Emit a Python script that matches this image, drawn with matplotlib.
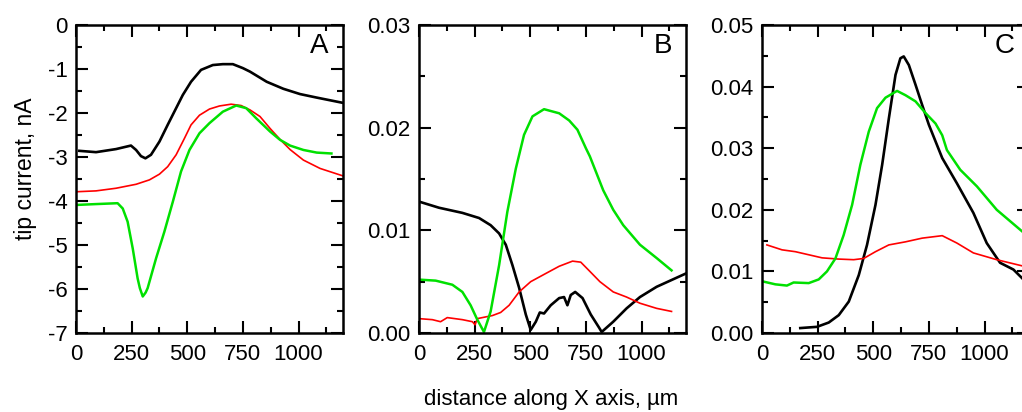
"""Three-panel tip current profiles along X (panels A, B, C)."""
import matplotlib
matplotlib.use("Agg")
import matplotlib.pyplot as plt
from matplotlib.ticker import MultipleLocator, FormatStrFormatter

plt.rcParams["font.family"] = ["Liberation Sans", "DejaVu Sans"]

BLACK, RED, GREEN = "#000000", "#ff0000", "#00e000"

# ---- panel A: tip current, nA ----
a_black_x = [15, 90, 180, 247, 270, 292, 312, 337, 375, 412, 450, 480, 517, 562,
             615, 660, 705, 750, 782, 857, 932, 1007, 1082, 1200]
a_black_y = [-2.86, -2.89, -2.82, -2.74, -2.84, -2.98, -3.03, -2.95, -2.65, -2.27,
             -1.89, -1.59, -1.29, -1.02, -0.91, -0.89, -0.89, -0.98, -1.06, -1.29,
             -1.45, -1.57, -1.65, -1.77]
a_red_x = [0, 90, 180, 270, 330, 375, 412, 450, 487, 517, 555, 600, 645, 697, 742,
           782, 827, 872, 917, 962, 1022, 1097, 1200]
a_red_y = [-3.79, -3.77, -3.71, -3.62, -3.52, -3.39, -3.22, -2.95, -2.58, -2.27,
           -2.05, -1.91, -1.84, -1.80, -1.83, -1.93, -2.08, -2.35, -2.60, -2.83,
           -3.07, -3.26, -3.43]
a_green_x = [0, 90, 187, 210, 232, 255, 277, 287, 300, 313, 322, 360, 397, 435,
             472, 510, 555, 600, 660, 720, 765, 810, 872, 917, 962, 1022, 1082, 1148]
a_green_y = [-4.09, -4.07, -4.05, -4.17, -4.47, -5.08, -5.76, -5.98, -6.17, -6.08,
             -5.98, -5.30, -4.70, -4.02, -3.33, -2.84, -2.46, -2.23, -1.97, -1.83,
             -1.89, -2.12, -2.42, -2.61, -2.74, -2.84, -2.90, -2.92]

# ---- panel B ----
b_black_x = [0, 90, 195, 270, 322, 360, 390, 420, 450, 480, 502, 525, 543, 562,
             592, 630, 652, 667, 682, 702, 735, 772, 810, 821, 873, 933, 993, 1068,
             1200]
b_black_y = [0.0128, 0.0122, 0.0117, 0.0112, 0.0105, 0.0097, 0.0086, 0.0066,
             0.0044, 0.0018, 0.0003, 0.0011, 0.0020, 0.0019, 0.0027, 0.0034,
             0.0035, 0.0027, 0.0037, 0.0040, 0.0034, 0.0018, 0.0005, 0.0001,
             0.0011, 0.0024, 0.0035, 0.0045, 0.0058]
b_red_x = [0, 60, 97, 127, 195, 240, 252, 262, 330, 367, 405, 450, 502, 570, 630,
           690, 727, 768, 813, 873, 933, 993, 1068, 1135]
b_red_y = [0.0014, 0.0013, 0.0011, 0.0015, 0.0013, 0.0011, 0.0008, 0.0014,
           0.0017, 0.0020, 0.0027, 0.0040, 0.0050, 0.0058, 0.0065, 0.0070,
           0.0069, 0.0060, 0.0050, 0.0040, 0.0035, 0.0029, 0.0024, 0.0021]
b_green_x = [0, 75, 150, 195, 232, 262, 292, 322, 360, 397, 435, 472, 510, 562,
             630, 675, 712, 750, 768, 828, 873, 918, 993, 1068, 1135]
b_green_y = [0.0052, 0.0051, 0.0047, 0.0040, 0.0027, 0.0013, 0.0001, 0.0021,
             0.0066, 0.0118, 0.0160, 0.0193, 0.0211, 0.0218, 0.0214, 0.0207,
             0.0198, 0.0180, 0.0172, 0.0139, 0.0120, 0.0105, 0.0086, 0.0073,
             0.0061]

# ---- panel C ----
c_black_x = [172, 247, 300, 345, 390, 435, 472, 510, 540, 570, 600, 622, 637, 660,
             690, 720, 750, 780, 810, 876, 950, 1010, 1070, 1130, 1169]
c_black_y = [0.0008, 0.0010, 0.0017, 0.0029, 0.0051, 0.0094, 0.0143, 0.0208,
             0.0273, 0.0348, 0.0419, 0.0446, 0.0449, 0.0435, 0.0403, 0.0370,
             0.0338, 0.0311, 0.0284, 0.0243, 0.0195, 0.0146, 0.0114, 0.0103,
             0.0089]
c_red_x = [22, 90, 150, 210, 270, 345, 412, 457, 510, 570, 645, 720, 810, 876,
           950, 1055, 1169]
c_red_y = [0.0143, 0.0135, 0.0132, 0.0127, 0.0122, 0.0120, 0.0119, 0.0121,
           0.0132, 0.0143, 0.0148, 0.0154, 0.0158, 0.0146, 0.0130, 0.0119, 0.0109]
c_green_x = [0, 60, 112, 142, 210, 255, 292, 330, 367, 405, 442, 480, 517, 555,
             607, 645, 690, 735, 780, 810, 831, 891, 966, 1055, 1169]
c_green_y = [0.0084, 0.0079, 0.0077, 0.0082, 0.0081, 0.0087, 0.0100, 0.0121,
             0.0159, 0.0208, 0.0273, 0.0327, 0.0365, 0.0382, 0.0393, 0.0386,
             0.0376, 0.0357, 0.0340, 0.0321, 0.0297, 0.0265, 0.0238, 0.0200,
             0.0165]

W, H = 1022, 412
fig = plt.figure(figsize=(W / 100, H / 100), dpi=100)
fig.patch.set_facecolor("white")


def panel(left, ylim, ymajor, yminor, fmt, letter, series):
    ax = fig.add_axes([left / W, (H - 333) / H, 267 / W, 308 / H])
    for xs, ys, col, lw in series:
        ax.plot(xs, ys, color=col, linewidth=lw, solid_joinstyle="round")
    ax.set_xlim(0, 1200)
    ax.set_ylim(*ylim)
    ax.xaxis.set_major_locator(MultipleLocator(250))
    ax.xaxis.set_minor_locator(MultipleLocator(125))
    ax.yaxis.set_major_locator(MultipleLocator(ymajor))
    ax.yaxis.set_minor_locator(MultipleLocator(yminor))
    ax.yaxis.set_major_formatter(FormatStrFormatter(fmt))
    ax.tick_params(which="both", direction="in", top=True, right=True,
                   width=1.5, labelsize=16)
    ax.tick_params(which="major", length=8.5)
    ax.tick_params(which="minor", length=4.5)
    ax.tick_params(axis="x", pad=8)
    ax.tick_params(axis="y", pad=6)
    for s in ax.spines.values():
        s.set_linewidth(1.8)
    ax.text(0.947, 0.974, letter, transform=ax.transAxes, ha="right", va="top",
            fontsize=20)
    return ax


LW_K, LW_R, LW_G = 1.9, 1.2, 1.8

axA = panel(76, (-7, 0), 1, 0.5, "%g", "A",
            [(a_black_x, a_black_y, BLACK, LW_K),
             (a_red_x, a_red_y, RED, LW_R),
             (a_green_x, a_green_y, GREEN, LW_G)])
axA.set_ylabel("tip current, nA", fontsize=16.5)
axA.yaxis.set_label_coords(-0.147, 0.532)

panel(419, (0, 0.03), 0.01, 0.005, "%.2f", "B",
      [(b_black_x, b_black_y, BLACK, LW_K),
       (b_red_x, b_red_y, RED, LW_R),
       (b_green_x, b_green_y, GREEN, LW_G)])

panel(762, (0, 0.05), 0.01, 0.005, "%.2f", "C",
      [(c_black_x, c_black_y, BLACK, LW_K),
       (c_red_x, c_red_y, RED, LW_R),
       (c_green_x, c_green_y, GREEN, LW_G)])

fig.text(551 / W, 1 - 400 / H, "distance along X axis, µm", ha="center",
         va="center", fontsize=16)

fig.savefig("out.png", dpi=100, facecolor="white")
